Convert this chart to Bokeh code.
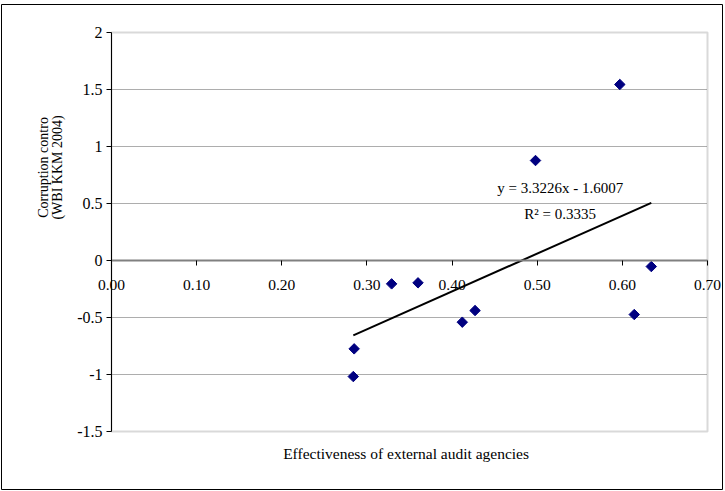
import math
from bokeh.plotting import figure
from bokeh.models import Range1d, FixedTicker, Label, BoxAnnotation, CustomJSTickFormatter
from bokeh.embed import file_html
from bokeh.resources import INLINE

# ---- data ----
audit_eff = [0.285, 0.284, 0.329, 0.360, 0.412, 0.427, 0.498, 0.597, 0.614, 0.634]
corruption = [-0.775, -1.018, -0.205, -0.196, -0.541, -0.439, 0.877, 1.544, -0.474, -0.053]

trend_slope = 3.3226
trend_intercept = -1.6007
r_squared = 0.3335

x_ticks = [0.0, 0.1, 0.2, 0.3, 0.4, 0.5, 0.6, 0.7]
x_tick_labels = ["0.00", "0.10", "0.20", "0.30", "0.40", "0.50", "0.60", "0.70"]
y_ticks = [-1.5, -1.0, -0.5, 0.0, 0.5, 1.0, 1.5, 2.0]
y_tick_labels = ["-1.5", "-1", "-0.5", "0", "0.5", "1", "1.5", "2"]

x_title = "Effectiveness of external audit agencies"
y_title_1 = "Corruption contro"
y_title_2 = "(WBI KKM 2004)"

FONT = "Liberation Serif"
TICK_FONT = "'Liberation Serif', serif"

# ---- layout: the frame covers the whole canvas; plot area is x 0..0.7, y -1.5..2 ----
X_MIN, X_MAX = x_ticks[0], x_ticks[-1]
Y_MIN, Y_MAX = y_ticks[0], y_ticks[-1]
W, H = 722, 486
AREA_L, AREA_R, AREA_T, AREA_B = 110, 706, 28, 427   # plot-area pixel edges inside the canvas
kx = (AREA_R - AREA_L) / (X_MAX - X_MIN)
ky = (AREA_B - AREA_T) / (Y_MAX - Y_MIN)
x_range = Range1d(X_MIN - AREA_L / kx, X_MAX + (W - AREA_R) / kx)
y_range = Range1d(Y_MIN - (H - AREA_B) / ky, Y_MAX + AREA_T / ky)

p = figure(width=W, height=H, x_range=x_range, y_range=y_range,
           output_backend="svg", toolbar_location=None, min_border=0)
p.styles = {"position": "absolute", "left": "1px", "top": "4px"}
p.background_fill_color = "white"
p.border_fill_color = "white"
p.outline_line_color = "black"
p.outline_line_width = 1
p.xgrid.visible = False
p.ygrid.visible = False

# plot-area border
p.add_layout(BoxAnnotation(left=X_MIN, right=X_MAX, bottom=Y_MIN, top=Y_MAX,
                           fill_alpha=0, line_color="#808080", line_width=2, level="underlay"))

# dotted horizontal gridlines
grid_ys = [t for t in y_ticks if t not in (0.0, Y_MIN, Y_MAX)]
p.segment(x0=[X_MIN] * len(grid_ys), x1=[X_MAX] * len(grid_ys), y0=grid_ys, y1=grid_ys,
          line_color="#5a5a5a", line_width=1, line_dash="1 1", level="underlay")

tick_fmt_code = ("const i = tick_vals.findIndex(t => Math.abs(t - tick) < 1e-9); "
                 "return i >= 0 ? tick_texts[i] : '';")

# x axis crossing at y=0
xa = p.xaxis[0]
xa.fixed_location = 0
xa.bounds = (X_MIN, X_MAX)
xa.ticker = FixedTicker(ticks=x_ticks)
xa.formatter = CustomJSTickFormatter(args=dict(tick_vals=x_ticks, tick_texts=x_tick_labels),
                                     code=tick_fmt_code)
xa.axis_line_color = "#808080"
xa.axis_line_width = 2
xa.major_tick_line_color = "black"
xa.major_tick_in = 0
xa.major_tick_out = 5
xa.minor_tick_line_color = None
xa.major_label_standoff = 14
xa.major_label_text_font = TICK_FONT
xa.major_label_text_font_size = "15.5px"
xa.major_label_text_color = "black"

# y axis at x=0
ya = p.yaxis[0]
ya.fixed_location = 0
ya.bounds = (Y_MIN, Y_MAX)
ya.ticker = FixedTicker(ticks=y_ticks)
ya.formatter = CustomJSTickFormatter(args=dict(tick_vals=y_ticks, tick_texts=y_tick_labels),
                                     code=tick_fmt_code)
ya.axis_line_color = "black"
ya.axis_line_width = 1
ya.major_tick_line_color = "black"
ya.major_tick_in = 0
ya.major_tick_out = 5
ya.minor_tick_line_color = None
ya.major_label_standoff = 4
ya.major_label_text_font = TICK_FONT
ya.major_label_text_font_size = "16px"
ya.major_label_text_color = "black"

# trend line
tx = [min(audit_eff), max(audit_eff)]
ty = [trend_slope * v + trend_intercept for v in tx]
p.line(tx, ty, line_color="black", line_width=2)

# points
p.scatter(audit_eff, corruption, marker="square", angle=math.pi / 4, size=7.4,
          fill_color="#000080", line_color="#000080")

# equation labels
eq_text = f"y = {trend_slope}x - {abs(trend_intercept)}"
r2_text = f"R\u00b2 = {r_squared}"
p.add_layout(Label(x=0.527, y=0.632, text=eq_text, text_align="center", text_baseline="middle",
                   text_font=FONT, text_font_size="15px", text_color="black"))
p.add_layout(Label(x=0.527, y=0.404, text=r2_text, text_align="center", text_baseline="middle",
                   text_font=FONT, text_font_size="15px", text_color="black"))

# axis titles
p.add_layout(Label(x=0.346, y=-1.693, text=x_title, text_align="center", text_baseline="middle",
                   text_font=FONT, text_font_size="15.5px", text_color="black"))
p.add_layout(Label(x=-0.080, y=0.816, text=y_title_1, angle=math.pi / 2, text_align="center",
                   text_baseline="middle", text_font=FONT, text_font_size="14px", text_color="black"))
p.add_layout(Label(x=-0.0635, y=0.816, text=y_title_2, angle=math.pi / 2, text_align="center",
                   text_baseline="middle", text_font=FONT, text_font_size="14px", text_color="black"))

open("out.html", "w").write(file_html(p, INLINE))
